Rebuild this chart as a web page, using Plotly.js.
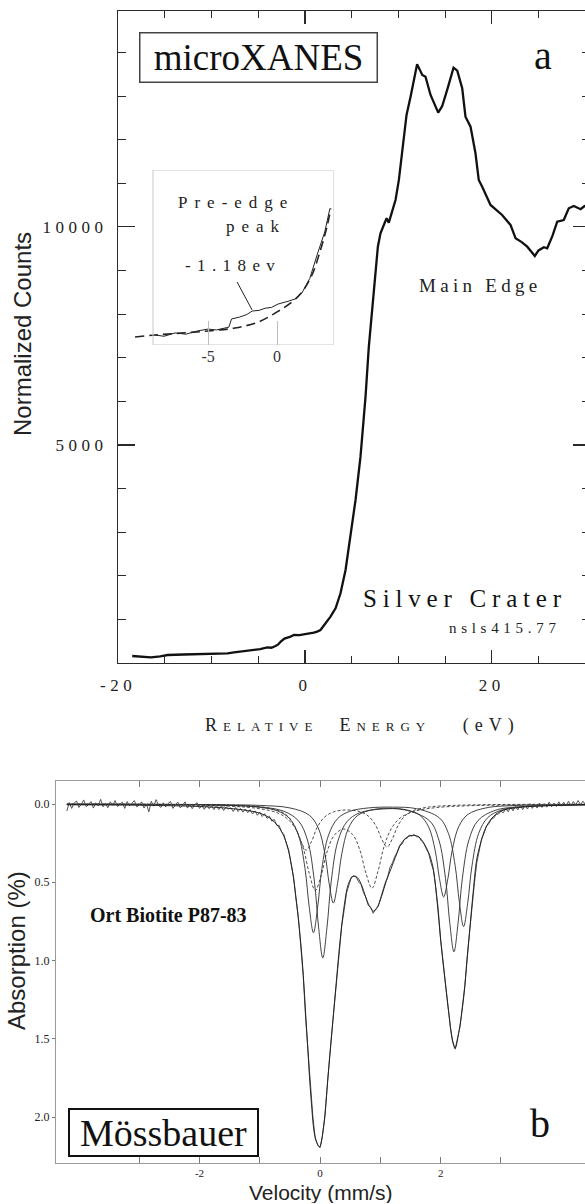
<!DOCTYPE html>
<html>
<head>
<meta charset="utf-8">
<script src="https://cdn.plot.ly/plotly-3.0.1.min.js"></script>
<style>
  html, body { margin: 0; padding: 0; background: #fff; overflow: hidden; }
  #chart { width: 600px; height: 1204px; }
  /* widely tracked tick numerals on the XANES panel */
  #chart .xtick text, #chart .ytick text { letter-spacing: 4.5px; }
</style>
</head>
<body>
<div id="chart"></div>
<script>
// ---------- (a) microXANES spectrum ----------
const xanesEnergy = [-18.5, -17.5, -16.5, -15.5, -14.7, -13, -11.2, -9.5, -8.3, -7.6, -6.9, -6.2, -5.5, -4.8, -4.05, -3.6, -3.16, -2.9, -2.6, -2.2, -1.55, -1.2, -0.6, 0.05, 0.5, 0.94, 1.3, 1.66, 2.2, 2.73, 3.27, 3.8, 4.34, 4.87, 5.41, 5.94, 6.48, 6.83, 7.37, 7.8, 8.08, 8.73, 8.97, 9.69, 10.05, 10.4, 10.87, 11.3, 12.0, 12.3, 12.55, 12.9, 13.44, 14.26, 14.69, 15.3, 15.9, 16.3, 16.83, 17.18, 17.72, 18.25, 18.6, 18.97, 19.86, 21.1, 22.0, 22.54, 23.2, 23.79, 24.6, 25.0, 25.57, 25.93, 26.5, 27.0, 27.7, 28.24, 28.78, 29.5, 29.93, 30.5];
const xanesCounts = [160, 140, 130, 150, 183, 195, 206, 215, 222, 245, 262, 270, 298, 320, 360, 350, 390, 420, 490, 560, 603, 642, 640, 665, 670, 695, 720, 757, 910, 1062, 1254, 1598, 2133, 2896, 3738, 4731, 6107, 7250, 8478, 9546, 9853, 10197, 10097, 10617, 11076, 11763, 12566, 12986, 13728, 13600, 13483, 13444, 13025, 12619, 12772, 13200, 13651, 13582, 13178, 12527, 12298, 11688, 11075, 10922, 10502, 10273, 10044, 9739, 9650, 9546, 9333, 9460, 9533, 9510, 9800, 10120, 10158, 10426, 10479, 10404, 10479, 10450];

// inset: pre-edge region (arbitrary intensity units)
const preEdgeEnergy = [-8.86, -8.2, -7.4, -6.6, -5.8, -5, -4.4, -3.8, -3.5, -3.3, -3.0, -2.7, -2.2, -1.8, -1.3, -0.87, -0.4, 0.07, 0.8, 1.3, 1.8, 2.37, 2.95, 3.46, 3.83];
const preEdgeSignal = [5.7, 5.0, 6.9, 6.2, 8.0, 9.1, 8.6, 9.7, 10.2, 14.9, 15.4, 16, 17.4, 19.4, 19.8, 21, 21.5, 23.4, 25, 26.3, 29.7, 38, 52.6, 64.6, 78];
const edgeBaseEnergy = [-10.3, -8.86, -7, -5, -3.06, -1.38, 0, 1.08, 1.81, 2.53, 3.1, 3.6, 3.9];
const edgeBaseSignal = [4.6, 5.7, 6.8, 8, 9.7, 13.1, 18.9, 24.6, 30.3, 40, 53, 67, 78];

const xanesTicks = [-20, 0, 20];
const xanesTickText = ['-20', '0', '20'];
const countTicks = [5000, 10000];
const countTickText = ['5000', '10000'];
const insetTicks = [-5, 0];
const insetTickText = ['-5', '0'];

// ---------- (b) Mössbauer spectrum ----------
const velocityStart = -4.2;   // first channel, mm/s
const velocityStep = 0.04;    // channel width, mm/s
const absorption = [
  0.045, -0.01, 0.028, -0.004, -0.02, 0.022, 0.0, -0.026, 0.016, 0.004,
  -0.016, 0.026, -0.008, 0.012, -0.03, 0.018, -0.004, 0.024, -0.014, 0.008,
  -0.022, 0.016, 0.002, -0.012, 0.028, -0.016, 0.012, -0.004, -0.022, 0.018,
  0.006, -0.014, 0.026, 0.0, 0.05, -0.018, 0.014, -0.028, 0.008, 0.022,
  -0.008, 0.018, -0.004, -0.016, 0.028, 0.004, -0.012, 0.024, 0.01, -0.014,
  0.026, 0.002, 0.03, 0.004, -0.008, 0.028, 0.01, 0.034, 0.006, 0.03,
  0.012, 0.036, 0.01, 0.036, 0.014, 0.042, 0.018, 0.032, 0.024, 0.048,
  0.022, 0.048, 0.028, 0.052, 0.032, 0.056, 0.036, 0.064, 0.044, 0.072,
  0.052, 0.08, 0.062, 0.092, 0.078, 0.11, 0.098, 0.136, 0.136, 0.176,
  0.196, 0.252, 0.296, 0.386, 0.466, 0.606, 0.726, 0.908, 1.096, 1.368,
  1.576, 1.846, 1.996, 2.138, 2.176, 2.196, 2.116, 1.986, 1.776, 1.606,
  1.436, 1.266, 1.076, 0.926, 0.776, 0.676, 0.566, 0.516, 0.466, 0.462,
  0.466, 0.498, 0.514, 0.566, 0.596, 0.648, 0.66, 0.698, 0.67, 0.656,
  0.604, 0.566, 0.504, 0.466, 0.404, 0.376, 0.334, 0.306, 0.264, 0.256,
  0.224, 0.22, 0.198, 0.206, 0.194, 0.21, 0.21, 0.236, 0.25, 0.286,
  0.314, 0.376, 0.424, 0.536, 0.674, 0.866, 1.014, 1.166, 1.294, 1.426,
  1.514, 1.566, 1.494, 1.426, 1.294, 1.166, 0.974, 0.816, 0.634, 0.506,
  0.374, 0.296, 0.22, 0.186, 0.14, 0.126, 0.096, 0.09, 0.066, 0.064,
  0.046, 0.056, 0.028, 0.05, 0.018, 0.044, 0.014, 0.038, 0.006, 0.036,
  0.01, 0.032, -0.002, 0.028, 0.004, 0.026, -0.006, 0.022, -0.002, 0.02,
  -0.012, 0.018, -0.006, 0.016, -0.014, 0.014, -0.012, 0.012, -0.018, 0.01,
  -0.016, 0.006, -0.022, 0.004, -0.018, 0.002, -0.024
];

// total fit
const fitVelocity = [-4.2, -3.0, -2.0, -1.5, -1.2, -1.0, -0.83, -0.7, -0.62, -0.55, -0.47, -0.39, -0.3, -0.22, -0.15, -0.08, -0.01, 0.06, 0.13, 0.2, 0.25, 0.33, 0.4, 0.47, 0.55, 0.62, 0.7, 0.78, 0.85, 0.89, 0.95, 1.02, 1.1, 1.18, 1.25, 1.35, 1.45, 1.55, 1.64, 1.72, 1.8, 1.87, 1.94, 2.0, 2.07, 2.14, 2.2, 2.24, 2.3, 2.38, 2.46, 2.53, 2.6, 2.67, 2.75, 2.85, 3.0, 3.3, 3.7, 4.5];
const fitAbsorption = [0.005, 0.008, 0.016, 0.028, 0.042, 0.058, 0.09, 0.14, 0.19, 0.26, 0.40, 0.63, 0.98, 1.46, 1.88, 2.13, 2.19, 2.06, 1.75, 1.44, 1.22, 0.88, 0.65, 0.51, 0.46, 0.47, 0.53, 0.62, 0.67, 0.685, 0.66, 0.59, 0.49, 0.41, 0.34, 0.25, 0.21, 0.20, 0.21, 0.25, 0.31, 0.40, 0.62, 0.87, 1.12, 1.35, 1.52, 1.56, 1.46, 1.24, 0.90, 0.60, 0.35, 0.24, 0.15, 0.09, 0.045, 0.022, 0.012, 0.004];

// Fe2+ doublets (solid)
const dbl1Velocity = [-4.2, -2.5, -1.5, -1.0, -0.7, -0.51, -0.36, -0.25, -0.18, -0.11, -0.04, 0.03, 0.14, 0.29, 0.49, 0.8, 1.2, 1.6, 1.98, 2.13, 2.24, 2.31, 2.38, 2.45, 2.52, 2.63, 2.78, 3.0, 3.4, 4.5];
const dbl1Absorption = [0.001, 0.003, 0.009, 0.021, 0.045, 0.091, 0.198, 0.412, 0.658, 0.822, 0.658, 0.412, 0.199, 0.093, 0.047, 0.025, 0.020, 0.030, 0.089, 0.189, 0.393, 0.627, 0.783, 0.627, 0.393, 0.188, 0.087, 0.040, 0.016, 0.005];
const dbl2Velocity = [-4.2, -2.5, -1.5, -1.0, -0.6, -0.355, -0.205, -0.095, -0.025, 0.045, 0.115, 0.185, 0.295, 0.445, 0.65, 1.0, 1.4, 1.82, 1.97, 2.08, 2.15, 2.22, 2.29, 2.36, 2.47, 2.62, 2.9, 3.3, 4.5];
const dbl2Absorption = [0.002, 0.004, 0.009, 0.019, 0.046, 0.109, 0.236, 0.492, 0.786, 0.983, 0.787, 0.493, 0.237, 0.113, 0.057, 0.033, 0.037, 0.109, 0.230, 0.474, 0.756, 0.944, 0.756, 0.474, 0.228, 0.105, 0.041, 0.018, 0.005];
const dbl3Velocity = [-4.2, -2.5, -1.5, -1.0, -0.5, -0.18, -0.03, 0.08, 0.15, 0.22, 0.29, 0.36, 0.47, 0.62, 0.9, 1.2, 1.45, 1.65, 1.8, 1.91, 1.98, 2.05, 2.12, 2.19, 2.30, 2.45, 2.75, 3.2, 4.5];
const dbl3Absorption = [0.001, 0.002, 0.005, 0.009, 0.025, 0.071, 0.153, 0.317, 0.506, 0.633, 0.507, 0.318, 0.155, 0.074, 0.034, 0.028, 0.039, 0.070, 0.146, 0.299, 0.476, 0.594, 0.476, 0.299, 0.144, 0.067, 0.025, 0.010, 0.003];
// Fe3+ doublets (dashed)
const dbl4Velocity = [-4.2, -2.5, -1.5, -1.0, -0.68, -0.53, -0.41, -0.32, -0.23, -0.14, -0.05, 0.07, 0.22, 0.44, 0.66, 0.81, 0.93, 1.02, 1.11, 1.20, 1.29, 1.41, 1.56, 1.81, 2.2, 2.8, 3.5, 4.5];
const dbl4Absorption = [0.001, 0.003, 0.007, 0.017, 0.043, 0.080, 0.149, 0.236, 0.295, 0.238, 0.151, 0.085, 0.051, 0.038, 0.049, 0.080, 0.142, 0.222, 0.275, 0.221, 0.139, 0.075, 0.040, 0.019, 0.009, 0.004, 0.002, 0.001];
const dbl5Velocity = [-4.2, -2.5, -1.5, -1.0, -0.7, -0.55, -0.4, -0.28, -0.18, -0.08, 0.02, 0.12, 0.24, 0.39, 0.54, 0.66, 0.76, 0.86, 0.96, 1.06, 1.18, 1.33, 1.56, 1.9, 2.4, 3.0, 3.7, 4.5];
const dbl5Absorption = [0.002, 0.005, 0.014, 0.030, 0.058, 0.092, 0.162, 0.280, 0.442, 0.552, 0.452, 0.300, 0.197, 0.160, 0.195, 0.294, 0.441, 0.538, 0.431, 0.273, 0.158, 0.089, 0.047, 0.024, 0.012, 0.007, 0.004, 0.003];

const velocityTicks = [-3, -2, -1, 0, 1, 2, 3];
const velocityTickText = ['', '-2', '', '0', '', '2', ''];
const absorptionTicks = [0, 0.5, 1, 1.5, 2];
const absorptionTickText = ['0.0', '0.5', '1.0', '1.5', '2.0'];

// ---------- page geometry ----------
const W = 600, H = 1204;
const fx = p => p / W;        // pixel column -> paper fraction
const fy = p => 1 - p / H;    // pixel row -> paper fraction
const serif = 'Liberation Serif, Times New Roman, serif';
const sans = 'Liberation Sans, Arial, sans-serif';
const spaced = (t, s) => '<span style="letter-spacing:' + s + 'px">' + t + '</span>';

const solidFit = {color: '#2e2e2e', width: 0.9, shape: 'spline', smoothing: 1};
const dashFit = {color: '#3a3a3a', width: 0.9, shape: 'spline', smoothing: 1, dash: '3px,2px'};

const traces = [
  {x: xanesEnergy, y: xanesCounts, xaxis: 'x', yaxis: 'y', mode: 'lines',
   line: {color: '#111', width: 2.3}},
  {x: edgeBaseEnergy, y: edgeBaseSignal, xaxis: 'x2', yaxis: 'y2', mode: 'lines',
   line: {color: '#222', width: 1.6, dash: '9px,5px', shape: 'spline'}},
  {x: preEdgeEnergy, y: preEdgeSignal, xaxis: 'x2', yaxis: 'y2', mode: 'lines',
   line: {color: '#222', width: 1}},
  {x: dbl4Velocity, y: dbl4Absorption, xaxis: 'x3', yaxis: 'y3', mode: 'lines', line: dashFit},
  {x: dbl5Velocity, y: dbl5Absorption, xaxis: 'x3', yaxis: 'y3', mode: 'lines', line: dashFit},
  {x: dbl1Velocity, y: dbl1Absorption, xaxis: 'x3', yaxis: 'y3', mode: 'lines', line: solidFit},
  {x: dbl2Velocity, y: dbl2Absorption, xaxis: 'x3', yaxis: 'y3', mode: 'lines', line: solidFit},
  {x: dbl3Velocity, y: dbl3Absorption, xaxis: 'x3', yaxis: 'y3', mode: 'lines', line: solidFit},
  {y: absorption, x0: velocityStart, dx: velocityStep, xaxis: 'x3', yaxis: 'y3', mode: 'lines',
   line: {color: '#555', width: 1}},
  {x: fitVelocity, y: fitAbsorption, xaxis: 'x3', yaxis: 'y3', mode: 'lines',
   line: {color: '#1a1a1a', width: 0.9, shape: 'spline', smoothing: 1}}
];

const topAxisStyle = {
  showline: true, linecolor: '#2a2a2a', linewidth: 1.4, mirror: 'ticks',
  ticks: 'inside', tickcolor: '#2a2a2a', tickwidth: 1.2,
  showgrid: false, zeroline: false, fixedrange: true,
  tickfont: {family: serif, size: 17, color: '#222'}, ticklabelstandoff: 6
};

// text placed on the page, centred on the given pixel position
const note = (x, y, text, font, extra) => Object.assign({
  xref: 'paper', yref: 'paper', x: fx(x), y: fy(y), xanchor: 'center', yanchor: 'middle',
  text: text, showarrow: false, font: font
}, extra || {});

const layout = {
  width: W, height: H,
  margin: {l: 0, r: 0, t: 0, b: 0},
  paper_bgcolor: '#fff', plot_bgcolor: 'rgba(0,0,0,0)',
  showlegend: false,
  xaxis: Object.assign({}, topAxisStyle, {
    domain: [fx(118.2), fx(589.9)], range: [-20, 30.5], anchor: 'y',
    tickmode: 'array', tickvals: xanesTicks, ticktext: xanesTickText, ticklen: 13,
    minor: {tick0: 0, dtick: 5, ticks: 'inside', ticklen: 7, tickcolor: '#2a2a2a', tickwidth: 1}
  }),
  yaxis: Object.assign({}, topAxisStyle, {
    domain: [fy(663), fy(11)], range: [0, 14950], anchor: 'x',
    tickmode: 'array', tickvals: countTicks, ticktext: countTickText, ticklen: 17,
    minor: {tick0: 0, dtick: 1000, ticks: 'inside', ticklen: 8, tickcolor: '#2a2a2a', tickwidth: 1}
  }),
  xaxis2: {
    domain: [fx(133), fx(333.6)], range: [-10.45, 4.1], anchor: 'y2',
    showline: false, showgrid: false, zeroline: false, fixedrange: true,
    ticks: 'inside', ticklen: 24, tickcolor: '#bdbdbd', tickwidth: 1,
    tickmode: 'array', tickvals: insetTicks, ticktext: insetTickText,
    tickfont: {family: serif, size: 16, color: '#333'}
  },
  yaxis2: {domain: [fy(345), fy(170)], range: [0, 100], anchor: 'x2', visible: false, fixedrange: true},
  xaxis3: {
    domain: [fx(56), fx(592)], range: [-4.38, 4.51], anchor: 'y3',
    showline: true, linecolor: '#9a9a9a', linewidth: 1, mirror: 'ticks',
    ticks: 'inside', ticklen: 6, tickcolor: '#777', tickwidth: 1,
    tickmode: 'array', tickvals: velocityTicks, ticktext: velocityTickText,
    tickfont: {family: serif, size: 11, color: '#222'}, ticklabelstandoff: 0,
    showgrid: false, zeroline: false, fixedrange: true
  },
  yaxis3: {
    domain: [fy(1163), fy(781)], range: [2.293, -0.147], anchor: 'x3',
    showline: true, linecolor: '#9a9a9a', linewidth: 1, mirror: true,
    ticks: 'outside', ticklen: 3, tickcolor: '#777', tickwidth: 1,
    tickmode: 'array', tickvals: absorptionTicks, ticktext: absorptionTickText,
    tickfont: {family: serif, size: 12, color: '#222'},
    showgrid: false, zeroline: false, fixedrange: true
  },
  shapes: [
    {type: 'rect', xref: 'x2', yref: 'y2', x0: -9, x1: 4.1, y0: 0, y1: 100,
     line: {color: '#c8c8c8', width: 1}},
    {type: 'line', xref: 'x2', yref: 'y2', x0: -2.9, y0: 36, x1: -1.81, y1: 20,
     line: {color: '#222', width: 1}}
  ],
  annotations: [
    note(258.5, 57.5, 'microXANES', {family: serif, size: 37, color: '#111'},
         {bordercolor: '#444', borderwidth: 1.5, borderpad: 0, bgcolor: '#fff', width: 236, height: 48}),
    note(543, 55, 'a', {family: serif, size: 40, color: '#111'}),
    note(480.5, 285, spaced('Main Edge', 4.3), {family: serif, size: 19, color: '#222'}),
    note(464.5, 598, spaced('Silver Crater', 5.8), {family: serif, size: 25, color: '#111'}),
    note(504.5, 628, spaced('nsls415.77', 4.7), {family: serif, size: 15, color: '#222'}),
    note(236, 202, spaced('Pre-edge', 7), {family: serif, size: 17, color: '#222'}),
    note(255.5, 227, spaced('peak', 7), {family: serif, size: 17, color: '#222'}),
    note(233, 265, spaced('-1.18ev', 6.4), {family: serif, size: 17, color: '#222'}),
    note(22, 334, 'Normalized Counts', {family: sans, size: 24, color: '#222'}, {textangle: -90}),
    note(362, 725,
         spaced('<span style="font-variant:small-caps">Relative&nbsp;&nbsp;Energy</span>&nbsp;&nbsp;&nbsp;(eV)', 6),
         {family: serif, size: 18, color: '#222'}),
    note(168.5, 915, '<b>Ort Biotite P87-83</b>', {family: serif, size: 20, color: '#111'}),
    note(163.5, 1132.5, 'Mössbauer', {family: serif, size: 38, color: '#111'},
         {bordercolor: '#111', borderwidth: 2, borderpad: 0, bgcolor: '#fff', width: 187, height: 45}),
    note(540, 1123, 'b', {family: serif, size: 40, color: '#111'}),
    note(16, 951, 'Absorption (%)', {family: sans, size: 24, color: '#222'}, {textangle: -90}),
    note(321, 1192, 'Velocity (mm/s)', {family: sans, size: 21, color: '#222'}, {height: 21})
  ]
};

Plotly.newPlot('chart', traces, layout, {staticPlot: true, displayModeBar: false});
</script>
</body>
</html>
